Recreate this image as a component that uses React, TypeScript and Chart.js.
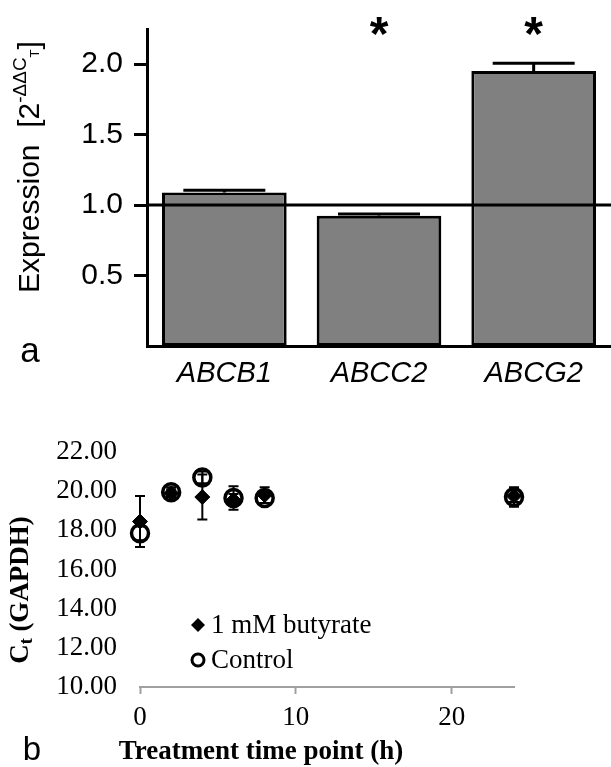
import React, { useEffect, useRef } from 'react';
import { Chart, registerables } from 'chart.js';

Chart.register(...registerables);

// ---------- Panel a data ----------
const genes = ['ABCB1', 'ABCC2', 'ABCG2'];
const expression = [1.09, 0.925, 1.952];
const expressionErr = [0.015, 0.012, 0.055];
const significant = [false, true, true];
const yTicksA = [0.5, 1.0, 1.5, 2.0];
const referenceLevel = 1.0;

// ---------- Panel b data ----------
const timePoints = [0, 2, 4, 6, 8, 24];
const butyrate = [18.45, 19.9, 19.7, 19.55, 19.8, 19.75];
const butyrateErr = [1.3, 0.2, 1.15, 0.3, 0.4, 0.3];
const control = [17.85, 19.95, 20.7, 19.65, 19.65, 19.7];
const controlErr = [0.35, 0.25, 0.3, 0.6, 0.25, 0.5];
const xTicksB = [0, 10, 20];
const yTicksB = [10, 12, 14, 16, 18, 20, 22];

const SANS = '"Liberation Sans", Arial, sans-serif';
const SERIF = '"Liberation Serif", "Times New Roman", serif';

const pluginA = {
  id: 'panelA',
  afterDatasetsDraw(chart: any) {
    const { ctx, chartArea, scales } = chart;
    const xs = scales.x;
    const ys = scales.y;
    ctx.save();
    // error bars
    ctx.strokeStyle = '#000';
    ctx.lineWidth = 3;
    expression.forEach((v, i) => {
      const x = xs.getPixelForValue(i);
      const y0 = ys.getPixelForValue(v);
      const y1 = ys.getPixelForValue(v + expressionErr[i]);
      ctx.beginPath();
      ctx.moveTo(x, y0);
      ctx.lineTo(x, y1);
      ctx.moveTo(x - 41, y1);
      ctx.lineTo(x + 41, y1);
      ctx.stroke();
    });
    // reference line
    const yr = ys.getPixelForValue(referenceLevel);
    ctx.beginPath();
    ctx.moveTo(chartArea.left, yr);
    ctx.lineTo(chart.width, yr);
    ctx.stroke();
    // asterisks
    ctx.fillStyle = '#000';
    ctx.font = `bold 48px ${SANS}`;
    ctx.textAlign = 'center';
    ctx.textBaseline = 'alphabetic';
    significant.forEach((s, i) => {
      if (!s) return;
      ctx.fillText('*', xs.getPixelForValue(i), 50);
    });
    // panel letter
    ctx.font = `35px ${SANS}`;
    ctx.fillText('a', 30, 362);
    // y title
    ctx.translate(31, 167);
    ctx.rotate(-Math.PI / 2);
    const parts = [
      { t: 'Expression  [2', f: `30px ${SANS}`, dy: 0 },
      { t: '-ΔΔC', f: `19px ${SANS}`, dy: -10 },
      { t: 'T', f: `13px ${SANS}`, dy: 4 },
      { t: ']', f: `30px ${SANS}`, dy: 0 },
    ];
    let total = 0;
    parts.forEach((p) => { ctx.font = p.f; total += ctx.measureText(p.t).width; });
    let cx = -total / 2;
    ctx.textAlign = 'left';
    ctx.textBaseline = 'middle';
    parts.forEach((p) => {
      ctx.font = p.f;
      ctx.fillText(p.t, cx, p.dy);
      cx += ctx.measureText(p.t).width;
    });
    ctx.restore();
  },
};

const pluginB = {
  id: 'panelB',
  afterDatasetsDraw(chart: any) {
    const { ctx, scales } = chart;
    const xs = scales.x;
    const ys = scales.y;
    ctx.save();
    ctx.strokeStyle = '#000';
    ctx.lineWidth = 2;
    const drawErr = (vals: number[], errs: number[]) => {
      vals.forEach((v, i) => {
        const x = xs.getPixelForValue(timePoints[i]);
        const yt = ys.getPixelForValue(v + errs[i]);
        const yb = ys.getPixelForValue(v - errs[i]);
        ctx.beginPath();
        ctx.moveTo(x, yt);
        ctx.lineTo(x, yb);
        ctx.moveTo(x - 5, yt);
        ctx.lineTo(x + 5, yt);
        ctx.moveTo(x - 5, yb);
        ctx.lineTo(x + 5, yb);
        ctx.stroke();
      });
    };
    drawErr(butyrate, butyrateErr);
    drawErr(control, controlErr);

    // legend
    ctx.fillStyle = '#000';
    ctx.beginPath();
    ctx.moveTo(198, 225 - 7);
    ctx.lineTo(198 + 7, 225);
    ctx.lineTo(198, 225 + 7);
    ctx.lineTo(198 - 7, 225);
    ctx.closePath();
    ctx.fill();
    ctx.lineWidth = 3;
    ctx.beginPath();
    ctx.arc(198, 260, 6, 0, Math.PI * 2);
    ctx.stroke();
    ctx.font = `27px ${SERIF}`;
    ctx.textAlign = 'left';
    ctx.textBaseline = 'middle';
    ctx.fillText(chart.data.datasets[0].label, 211, 226);
    ctx.fillText(chart.data.datasets[1].label, 211, 261);

    // x title
    ctx.font = `bold 27px ${SERIF}`;
    ctx.textAlign = 'center';
    ctx.fillText('Treatment time point (h)', 261, 352);

    // panel letter
    ctx.font = `33px ${SANS}`;
    ctx.textBaseline = 'alphabetic';
    ctx.fillText('b', 32, 360);

    // y title
    ctx.translate(21, 190);
    ctx.rotate(-Math.PI / 2);
    const parts = [
      { t: 'C', f: `bold 27px ${SERIF}`, dy: 0 },
      { t: 't', f: `bold 18px ${SERIF}`, dy: 6 },
      { t: ' (GAPDH)', f: `bold 27px ${SERIF}`, dy: 0 },
    ];
    let total = 0;
    parts.forEach((p) => { ctx.font = p.f; total += ctx.measureText(p.t).width; });
    let cx = -total / 2;
    ctx.textAlign = 'left';
    ctx.textBaseline = 'middle';
    parts.forEach((p) => {
      ctx.font = p.f;
      ctx.fillText(p.t, cx, p.dy);
      cx += ctx.measureText(p.t).width;
    });
    ctx.restore();
  },
};

export default function App() {
  const refA = useRef<HTMLCanvasElement>(null);
  const refB = useRef<HTMLCanvasElement>(null);

  useEffect(() => {
    const chartA = new Chart(refA.current as HTMLCanvasElement, {
      type: 'bar',
      data: {
        labels: genes,
        datasets: [
          {
            data: expression,
            backgroundColor: '#808080',
            borderColor: '#000',
            borderWidth: 3,
            borderSkipped: false,
            barPercentage: 0.806,
            categoryPercentage: 1,
          },
        ],
      },
      options: {
        animation: false,
        responsive: false,
        devicePixelRatio: 1,
        layout: { padding: { top: 15, right: 0, left: 0, bottom: 0 } },
        plugins: { legend: { display: false }, tooltip: { enabled: false } },
        scales: {
          x: {
            grid: { display: false },
            border: { display: true, color: '#000', width: 3 },
            ticks: {
              color: '#000',
              font: { family: SANS, size: 29, style: 'italic' },
              padding: 3,
              maxRotation: 0,
            },
            afterFit: (s: any) => { s.height = 54; },
          },
          y: {
            min: 0,
            max: 2.25,
            afterBuildTicks: (s: any) => { s.ticks = yTicksA.map((v) => ({ value: v })); },
            ticks: {
              color: '#000',
              font: { family: SANS, size: 30 },
              padding: 11,
              callback: (v: any) => Number(v).toFixed(1),
            },
            grid: { drawOnChartArea: false, drawTicks: true, tickLength: 13, tickWidth: 3, tickColor: '#000' },
            border: { color: '#000', width: 3 },
            afterFit: (s: any) => { s.width = 147; },
          },
        },
      } as any,
      plugins: [pluginA],
    });

    const chartB = new Chart(refB.current as HTMLCanvasElement, {
      type: 'scatter',
      data: {
        datasets: [
          {
            label: '1 mM butyrate',
            data: timePoints.map((t, i) => ({ x: t, y: butyrate[i] })),
            pointStyle: 'rectRot',
            pointRadius: 7.5,
            backgroundColor: '#000',
            borderColor: '#000',
            borderWidth: 1,
            clip: false,
          },
          {
            label: 'Control',
            data: timePoints.map((t, i) => ({ x: t, y: control[i] })),
            pointStyle: 'circle',
            pointRadius: 8.5,
            backgroundColor: 'rgba(0,0,0,0)',
            borderColor: '#000',
            borderWidth: 3.5,
            clip: false,
          },
        ],
      },
      options: {
        animation: false,
        responsive: false,
        devicePixelRatio: 1,
        layout: { padding: { top: 52, right: 97, left: 0, bottom: 0 } },
        plugins: { legend: { display: false }, tooltip: { enabled: false } },
        scales: {
          x: {
            type: 'linear',
            min: 0,
            max: 24,
            afterBuildTicks: (s: any) => { s.ticks = xTicksB.map((v) => ({ value: v })); },
            grid: { display: true, drawOnChartArea: false, drawTicks: true, tickLength: 7, tickWidth: 2, tickColor: '#a0a0a0' },
            border: { display: true, color: '#a0a0a0', width: 2 },
            ticks: { color: '#000', font: { family: SERIF, size: 27 }, padding: 8, maxRotation: 0 },
            afterFit: (s: any) => { s.height = 80; },
          },
          y: {
            min: 10,
            max: 22,
            afterBuildTicks: (s: any) => { s.ticks = yTicksB.map((v) => ({ value: v })); },
            grid: { display: false, drawTicks: false },
            border: { display: false },
            ticks: {
              color: '#000',
              font: { family: SERIF, size: 27 },
              padding: 23,
              callback: (v: any) => Number(v).toFixed(2),
            },
            afterFit: (s: any) => { s.width = 140; },
          },
        },
      } as any,
      plugins: [pluginB],
    });

    return () => {
      chartA.destroy();
      chartB.destroy();
    };
  }, []);

  return (
    <div style={{ position: 'absolute', left: 0, top: 0, width: 611, height: 767, background: '#fff' }}>
      <canvas ref={refA} width={611} height={400} style={{ position: 'absolute', left: 0, top: 0, display: 'block' }} />
      <canvas ref={refB} width={611} height={367} style={{ position: 'absolute', left: 0, top: 400, display: 'block' }} />
    </div>
  );
}
